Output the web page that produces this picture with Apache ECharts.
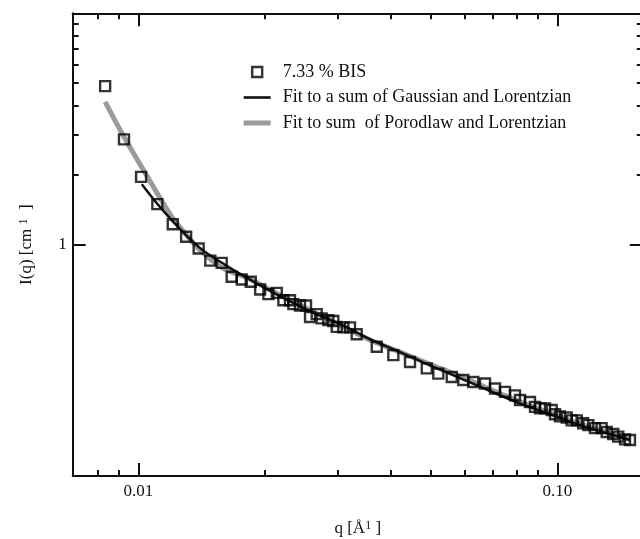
<!DOCTYPE html>
<html>
<head>
<meta charset="utf-8">
<script src="https://cdn.jsdelivr.net/npm/echarts@6/dist/echarts.min.js"></script>
<style>
  html, body { margin: 0; padding: 0; background: #ffffff; }
  #chart { width: 640px; height: 539px; }
</style>
</head>
<body>
<div id="chart"></div>
<script>
// Scattering intensity I(q) of a 7.33 % BIS gel, with two model fits, on log-log axes.

// Measured points
const qData = [0.00833, 0.00924, 0.01015, 0.01110, 0.01208, 0.01300, 0.01393, 0.01485, 0.01581, 0.01670,
  0.01765, 0.01855, 0.01953, 0.02044, 0.02140, 0.02219, 0.02301, 0.02344, 0.02431, 0.02513,
  0.02569, 0.02665, 0.02739, 0.02841, 0.02920, 0.02975, 0.03085, 0.03200, 0.03320, 0.03707,
  0.04061, 0.04451, 0.04880, 0.05200, 0.05598, 0.05967, 0.06302, 0.06721, 0.07101, 0.07502,
  0.07926, 0.08147, 0.08607, 0.08847, 0.09093, 0.09346, 0.09696, 0.09874, 0.1015, 0.1053,
  0.1082, 0.1113, 0.1153, 0.1186, 0.1230, 0.1276, 0.1312, 0.1360, 0.1398, 0.1451, 0.1491];
const iData = [4.845, 2.85, 1.964, 1.497, 1.226, 1.081, 0.963, 0.853, 0.834, 0.726,
  0.707, 0.691, 0.640, 0.611, 0.619, 0.575, 0.575, 0.553, 0.546, 0.546,
  0.487, 0.501, 0.480, 0.472, 0.468, 0.441, 0.439, 0.439, 0.410, 0.362,
  0.333, 0.311, 0.292, 0.277, 0.268, 0.260, 0.255, 0.251, 0.239, 0.231,
  0.223, 0.213, 0.209, 0.199, 0.196, 0.196, 0.193, 0.185, 0.181, 0.179,
  0.174, 0.174, 0.169, 0.166, 0.161, 0.161, 0.155, 0.152, 0.148, 0.144, 0.143];

// Fit: Gaussian + Lorentzian
const gaussQ = [0.01019, 0.01127, 0.01258, 0.01404, 0.01610, 0.01848, 0.02179, 0.02569, 0.03030, 0.03573,
  0.04213, 0.04968, 0.05857, 0.06906, 0.08147, 0.09607, 0.1133, 0.1300, 0.1491];
const gaussI = [1.826, 1.453, 1.167, 0.966, 0.818, 0.706, 0.599, 0.516, 0.453, 0.390,
  0.343, 0.301, 0.265, 0.233, 0.206, 0.185, 0.166, 0.154, 0.143];

// Fit: Porod law + Lorentzian
const porodQ = [0.00833, 0.00924, 0.01051, 0.01202, 0.01304, 0.01404, 0.01596, 0.01848, 0.02179, 0.02569,
  0.03030, 0.03573, 0.04213, 0.04968, 0.05857, 0.06906, 0.08147, 0.09607, 0.1133, 0.1300, 0.1491];
const porodI = [4.143, 2.924, 1.964, 1.319, 1.099, 0.947, 0.789, 0.709, 0.605, 0.521,
  0.449, 0.387, 0.343, 0.304, 0.270, 0.237, 0.209, 0.187, 0.168, 0.155, 0.144];

// Axis ranges and ticks
const xRange = [0.00697, 0.16];
const yRange = [0.1, 10];
const xMajorTicks = [0.01, 0.1];
const xTickLabels = ['0.01', '0.10'];
const xMinorTicks = [0.008, 0.009, 0.02, 0.03, 0.04, 0.05, 0.06, 0.07, 0.08, 0.09];
const yMajorTicks = [1];
const yTickLabels = ['1'];
const yMinorTicks = [2, 3, 4, 5, 6, 7, 8, 9];

const seriesNames = ['7.33 % BIS', 'Fit to a sum of Gaussian and Lorentzian', 'Fit to sum  of Porodlaw and Lorentzian'];

const FONT = '"Liberation Serif", "Times New Roman", Times, serif';
const INK = '#111111';
const MARK = '#000000';
const GREY = '#9b9b9b';
const lg = Math.log10;

const pairs = (xs, ys) => xs.map((x, i) => [x, ys[i]]);

// Frame axes live in log10 space so ticks can sit at 2..9 × 10^n.
function frameAxis(position, range, ticks, tickLen, showLine, labels, labelValues, labelMargin) {
  const values = ticks.map(lg);
  const axis = {
    type: 'value',
    position: position,
    min: lg(range[0]),
    max: lg(range[1]),
    axisLine: { show: showLine, onZero: false, lineStyle: { color: INK, width: 2 } },
    axisTick: { show: true, inside: true, length: tickLen, customValues: values,
      lineStyle: { color: INK, width: 2 } },
    splitLine: { show: false },
    axisLabel: { show: false }
  };
  if (labels) {
    const lv = labelValues.map(lg);
    axis.axisLabel = {
      show: true,
      customValues: lv,
      margin: labelMargin,
      color: INK,
      fontFamily: FONT,
      fontSize: 17,
      formatter: function (v) {
        let k = 0;
        lv.forEach(function (t, j) { if (Math.abs(t - v) < Math.abs(lv[k] - v)) k = j; });
        return labels[k];
      }
    };
  }
  return axis;
}

const supStyle = { s: { fontFamily: FONT, fontSize: 12, color: INK, verticalAlign: 'top' } };

const xBottomMajor = frameAxis('bottom', xRange, xMajorTicks, 13, false, xTickLabels, xMajorTicks, 7);
xBottomMajor.name = 'q [Å{s|1} ]';
xBottomMajor.nameLocation = 'middle';
xBottomMajor.nameGap = 44;
xBottomMajor.nameTextStyle = { color: INK, fontFamily: FONT, fontSize: 17, rich: supStyle };

const yLeftMajor = frameAxis('left', yRange, yMajorTicks, 13, false, yTickLabels, yMajorTicks, 6);
yLeftMajor.name = 'I(q) [cm {s|1}  ]';
yLeftMajor.nameLocation = 'middle';
yLeftMajor.nameGap = 38;
yLeftMajor.nameRotate = 90;
yLeftMajor.nameTextStyle = { color: INK, fontFamily: FONT, fontSize: 17, rich: supStyle };

const option = {
  animation: false,
  backgroundColor: '#ffffff',
  grid: { left: 72.7, right: -2.8, top: 13.3, bottom: 63, containLabel: false, outerBoundsMode: 'none' },
  legend: {
    orient: 'vertical',
    left: 243.7,
    top: 63,
    padding: 0,
    itemGap: 7.5,
    itemWidth: 27,
    itemHeight: 10,
    symbolKeepAspect: true,
    textStyle: { color: INK, fontFamily: FONT, fontSize: 18, padding: [0, 0, 0, 7] },
    data: [
      { name: seriesNames[0], icon: 'path://M0,0 L10,0 L10,10 L0,10 Z',
        itemStyle: { color: 'transparent', borderColor: MARK, borderWidth: 2.4 } },
      { name: seriesNames[1], icon: 'path://M0,0 L27,0 L27,2.6 L0,2.6 Z',
        itemStyle: { color: INK, borderWidth: 0 } },
      { name: seriesNames[2], icon: 'path://M0,0 L27,0 L27,5 L0,5 Z',
        itemStyle: { color: GREY, borderWidth: 0 } }
    ]
  },
  xAxis: [
    { type: 'log', logBase: 10, min: xRange[0], max: xRange[1], show: false },
    frameAxis('bottom', xRange, xMinorTicks, 6, true),
    xBottomMajor,
    frameAxis('top', xRange, xMinorTicks, 6, true),
    frameAxis('top', xRange, xMajorTicks, 13, false)
  ],
  yAxis: [
    { type: 'log', logBase: 10, min: yRange[0], max: yRange[1], show: false },
    frameAxis('left', yRange, yMinorTicks, 6, true),
    yLeftMajor,
    frameAxis('right', yRange, yMinorTicks, 6, true),
    frameAxis('right', yRange, yMajorTicks, 13, false)
  ],
  series: [
    {
      name: seriesNames[2], type: 'line', xAxisIndex: 0, yAxisIndex: 0,
      data: pairs(porodQ, porodI), symbol: 'none', smooth: 0.35,
      lineStyle: { color: GREY, width: 5 }, itemStyle: { color: GREY }, z: 2
    },
    {
      name: seriesNames[1], type: 'line', xAxisIndex: 0, yAxisIndex: 0,
      data: pairs(gaussQ, gaussI), symbol: 'none', smooth: 0.35,
      lineStyle: { color: INK, width: 2.5 }, itemStyle: { color: INK }, z: 3
    },
    {
      name: seriesNames[0], type: 'scatter', xAxisIndex: 0, yAxisIndex: 0,
      data: pairs(qData, iData), symbol: 'rect', symbolSize: 10,
      itemStyle: { color: 'transparent', borderColor: MARK, borderWidth: 2.4 }, z: 4
    }
  ]
};

const chart = echarts.init(document.getElementById('chart'), null, { renderer: 'canvas' });
chart.setOption(option);
</script>
</body>
</html>
